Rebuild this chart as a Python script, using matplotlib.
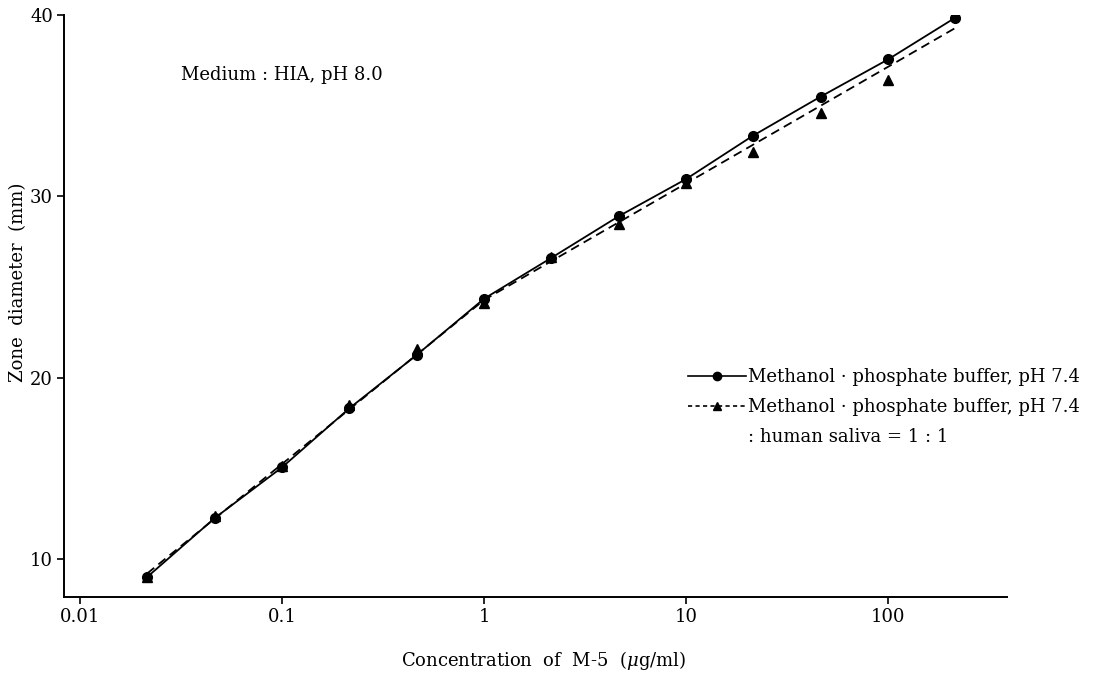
import numpy as np
import matplotlib
matplotlib.use('Agg')
import matplotlib.pyplot as plt
from matplotlib.lines import Line2D

plt.rcParams['font.family'] = ['DejaVu Serif']
plt.rcParams['mathtext.fontset'] = 'dejavuserif'

# concentrations of M-5 (ug/ml)
conc = [0.0215, 0.0464, 0.1, 0.215, 0.464, 1, 2.15, 4.64, 10, 21.5, 46.4, 100, 215]
# zone diameters (mm)
buffer_only = [9.0, 12.25, 15.05, 18.3, 21.25, 24.35, 26.6, 28.9, 30.95, 33.35, 35.5, 37.55, 39.85]
buffer_saliva = [9.0, 12.35, 15.1, 18.5, 21.6, 24.1, 26.65, 28.5, 30.75, 32.45, 34.6, 36.4, 40.4]

legend_labels = ['Methanol \u00b7 phosphate buffer, pH 7.4',
                 'Methanol \u00b7 phosphate buffer, pH 7.4',
                 ': human saliva = 1 : 1']

FS = 13


def hinge_fit(x, y, knot=1.0):
    # straight lines on log scale, broken at the knot
    u = np.log10(x)
    k = np.log10(knot)
    A = np.column_stack([np.ones_like(u), u, np.maximum(u - k, 0)])
    coef = np.linalg.lstsq(A, np.asarray(y), rcond=None)[0]
    return A @ coef


fig = plt.figure(figsize=(11.09, 6.77), dpi=100)
ax = fig.add_axes([0.0577, 0.1182, 0.8503, 0.8596])

x = np.array(conc)
ax.plot(x, buffer_only, '-', color='black', lw=1.3)
ax.plot(x, buffer_only, 'o', color='black', ms=7)
ax.plot(x, hinge_fit(x, buffer_saliva), color='black', lw=1.3,
        linestyle=(0, (5, 3)))
ax.plot(x, buffer_saliva, '^', color='black', ms=7)

ax.set_xscale('log')
ax.set_xlim(0.00833, 388)
ax.set_ylim(7.9, 40)
ax.set_xticks([0.01, 0.1, 1, 10, 100])
ax.set_xticklabels(['0.01', '0.1', '1', '10', '100'])
ax.xaxis.set_minor_locator(matplotlib.ticker.NullLocator())
ax.set_yticks([10, 20, 30, 40])
ax.tick_params(direction='out', length=5, width=1.2, labelsize=FS, pad=3)

for s in ['top', 'right']:
    ax.spines[s].set_visible(False)
for s in ['left', 'bottom']:
    ax.spines[s].set_linewidth(1.4)

ax.set_ylabel('Zone  diameter  (mm)', fontsize=FS)
ax.yaxis.set_label_coords(-0.039, 0.54)
ax.set_xlabel('Concentration  of  M-5  ($\\mu$g/ml)', fontsize=FS)
ax.xaxis.set_label_coords(0.509, -0.089)

ax.text(0.124, 0.897, 'Medium : HIA, pH 8.0', transform=ax.transAxes,
        fontsize=FS, va='center')

handles = [Line2D([], [], color='black', lw=1.2, marker='o', ms=6),
           Line2D([], [], color='black', lw=1.2, linestyle=(0, (2.5, 2)),
                  marker='^', ms=6),
           Line2D([], [], color='none')]
ax.legend(handles, legend_labels, loc='upper left',
          bbox_to_anchor=(0.662, 0.393), frameon=False, fontsize=FS,
          handlelength=3.2, handletextpad=0.1, labelspacing=0.67,
          borderaxespad=0, borderpad=0)

fig.savefig('out.png', dpi=100)
